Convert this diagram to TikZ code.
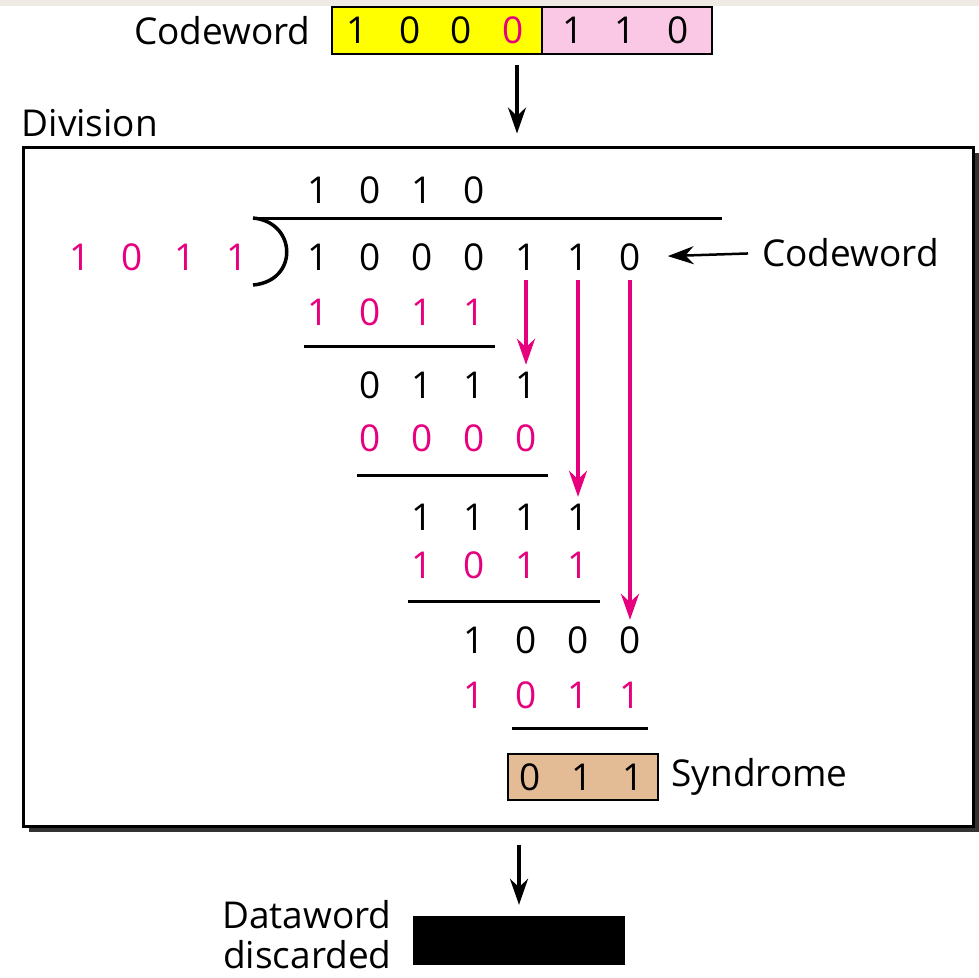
\documentclass[tikz,border=0pt]{standalone}
\usepackage{fontspec}
\setmainfont{Open Sans}
\usetikzlibrary{arrows.meta,shadows}
\definecolor{mag}{HTML}{E6007E}
\definecolor{cwyellow}{HTML}{FFFF00}
\definecolor{cwpink}{HTML}{FAC8E4}
\definecolor{syntan}{HTML}{E3BC95}
\definecolor{strip}{HTML}{EEEBE5}
\begin{document}
\begin{tikzpicture}[x=1pt, y=-1pt,
        every node/.style={font=\fontsize{37}{40}\selectfont},
        digit/.style={inner sep=0pt, text height=26pt, text depth=0pt},
        rule/.style={line width=3pt},
        >={Stealth[length=26pt, width=18pt]},
        bitbox/.style={draw, line width=2.5pt, inner sep=0pt, minimum height=47pt}]
    \useasboundingbox (0,0) rectangle (979,977);
    \fill [strip] (0,0) rectangle (979,6);

    % received codeword
    \node [bitbox, fill=cwyellow, minimum width=210pt] (yw) at (437,30.5) {};
    \node [bitbox, fill=cwpink, minimum width=170pt] (pk) at (627,30.5) {};
    \node [digit] (t0) at (357,30) {1};
    \node [digit] (t1) at (410,30) {0};
    \node [digit] (t2) at (461,30) {0};
    \node [digit, text=mag] (t3) at (513,30) {0};
    \node [digit] (t4) at (573,30) {1};
    \node [digit] (t5) at (625,30) {1};
    \node [digit] (t6) at (678,30) {0};
    \node [anchor=east, inner sep=0pt] (cwtop) at ([xshift=-20pt]yw.west) {Codeword};

    % division box
    \node [draw, line width=3pt, fill=white, minimum width=950pt, minimum height=679pt,
        drop shadow={shadow xshift=6pt, shadow yshift=-6pt, fill=black!80, opacity=1}] (div) at (498,486.5) {};
    \node [anchor=base west, inner sep=0pt] (divlab) at ([yshift=9pt]div.north west) {Division};
    \coordinate (top) at (517,65);
    \draw [->, line width=3.5pt, shorten >=12pt] (top) -- (top |- div.north);

    % long division
    \foreach \nm/\y/\s/\digs/\col in {q/190/0/{1,0,1,0}/black, d/257/0/{1,0,0,0,1,1,0}/black,
            a/312/0/{1,0,1,1}/mag, b/385/1/{0,1,1,1}/black, c/438/1/{0,0,0,0}/mag,
            e/517/2/{1,1,1,1}/black, f/565/2/{1,0,1,1}/mag, g/640/3/{1,0,0,0}/black,
            h/695/3/{1,0,1,1}/mag}
        \foreach \v [count=\i from 0] in \digs {
            \pgfmathtruncatemacro\k{\s+\i}
            \node [digit, text=\col] (\nm\k) at ({318+52*\k}, \y) {\v};
        }
    \foreach \v [count=\i from 0] in {1,0,1,1}
        \node [digit, text=mag] (p\i) at ({80+52.3*\i}, 257) {\v};

    \draw [rule] (253,218) -- (722,218);
    \draw [line width=3.5pt] (253,218) .. controls (297,222) and (299,281) .. (253,285);
    \draw [rule] (304,346) -- (495,346);
    \draw [rule] (357,475) -- (548,475);
    \draw [rule] (408,601) -- (600,601);
    \draw [rule] (512,728) -- (648,728);

    \draw [->, mag, line width=4pt, shorten <=10pt, shorten >=7pt] (d4.south) -- (b4.north);
    \draw [->, mag, line width=4pt, shorten <=10pt, shorten >=7pt] (d5.south) -- (e5.north);
    \draw [->, mag, line width=4pt, shorten <=10pt, shorten >=7pt] (d6.south) -- (g6.north);

    \node [anchor=west, inner sep=0pt] (cwlab) at (762,253) {Codeword};
    \draw [->, line width=2.5pt, shorten <=14pt, shorten >=27pt] (cwlab.west) -- (d6.east);

    % syndrome
    \node [bitbox, fill=syntan, minimum width=150pt, minimum height=46pt] (syn) at (583,777) {};
    \node [digit] (s4) at (530,777) {0};
    \node [digit] (s5) at (582,777) {1};
    \node [digit] (s6) at (633,777) {1};
    \node [anchor=west, inner sep=0pt] (synlab) at ([xshift=12pt]syn.east) {Syndrome};

    % discarded dataword
    \node [fill=black, inner sep=0pt, minimum width=212pt, minimum height=49pt] (dw) at (519,940.5) {};
    \node [anchor=east, align=right, inner sep=0pt] (dwlab) at ([xshift=-21pt, yshift=6pt]dw.west) {Dataword\\discarded};
    \draw [->, line width=3.5pt, shorten <=17pt, shorten >=11pt] (dw.north |- div.south) -- (dw.north);
\end{tikzpicture}
\end{document}
